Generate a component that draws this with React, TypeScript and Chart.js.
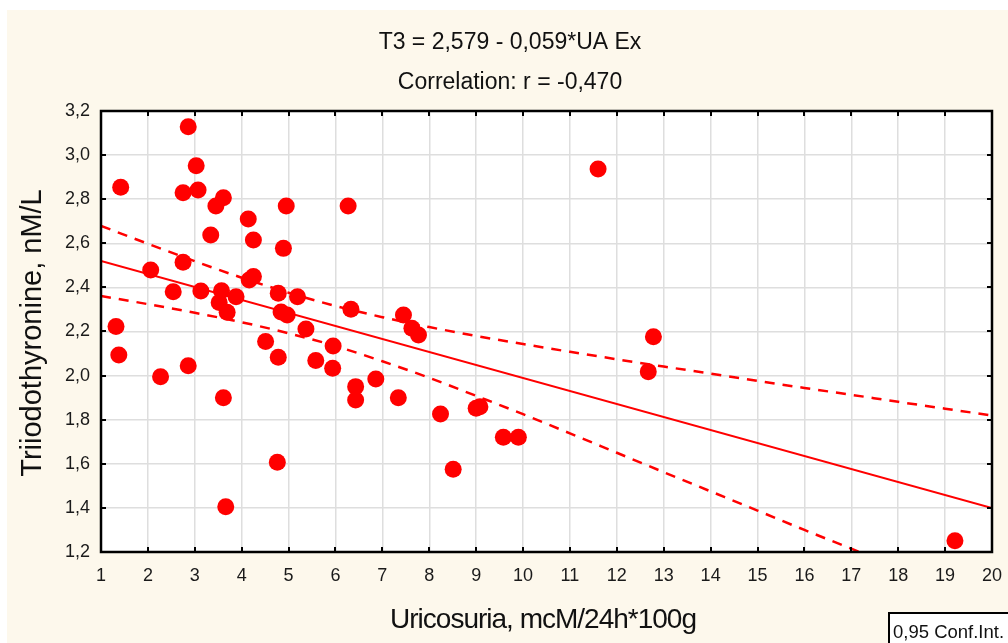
import React, { useEffect, useRef } from "react";
import { Chart, registerables } from "chart.js";

Chart.register(...registerables);

// Observed points: uricosuria (x) and triiodothyronine (y)
const pointsX = [
  1.32, 1.38, 1.42, 2.06, 2.27, 2.54, 2.75, 2.75, 2.86, 2.86,
  3.03, 3.07, 3.13, 3.34, 3.45, 3.61, 3.57, 3.52, 3.69, 3.88,
  3.61, 3.66, 4.14, 4.25, 4.16, 4.25, 4.51, 4.76, 4.78, 4.78,
  4.89, 4.95, 4.84, 4.97, 5.19, 5.37, 5.58, 5.95, 5.94, 6.27,
  6.33, 6.43, 6.43, 6.86, 7.34, 7.45, 7.63, 7.77, 8.24, 8.51,
  9.0, 9.08, 9.58, 9.9, 11.6, 12.78, 12.67, 19.21,
];
const pointsY = [
  2.223, 2.093, 2.854, 2.479, 1.995, 2.38, 2.514, 2.829, 3.129, 2.045,
  2.952, 2.842, 2.384, 2.638, 2.769, 2.807, 2.385, 2.331, 2.287, 2.358,
  1.9, 1.405, 2.71, 2.615, 2.434, 2.449, 2.155, 1.607, 2.083, 2.373,
  2.577, 2.769, 2.288, 2.275, 2.358, 2.211, 2.068, 2.134, 2.033, 2.769,
  2.301, 1.95, 1.889, 1.985, 1.9, 2.275, 2.215, 2.184, 1.826, 1.575,
  1.852, 1.859, 1.72, 1.72, 2.937, 2.176, 2.018, 1.251,
];

// Regression line T3 = 2,579 - 0,059*UA Ex (end points)
const fitX = [1, 20];
const fitY = [2.52, 1.399];

// 0,95 confidence band, read at each integer x
const bandX = [1, 2, 3, 4, 5, 6, 7, 8, 9, 10, 11, 12, 13, 14, 15, 16, 17, 18, 19, 20];
const bandUpper = [
  2.679, 2.598, 2.519, 2.444, 2.376, 2.316, 2.265, 2.22, 2.18, 2.143,
  2.108, 2.074, 2.041, 2.009, 1.976, 1.944, 1.913, 1.881, 1.85, 1.819,
];
const bandLower = [
  2.361, 2.324, 2.285, 2.242, 2.192, 2.134, 2.065, 1.99, 1.908, 1.825,
  1.738, 1.65, 1.562, 1.475, 1.388, 1.3, 1.215, 1.13, 1.045, 0.96,
];

const xTicks = [1, 2, 3, 4, 5, 6, 7, 8, 9, 10, 11, 12, 13, 14, 15, 16, 17, 18, 19, 20];
const yTicks = [1.2, 1.4, 1.6, 1.8, 2.0, 2.2, 2.4, 2.6, 2.8, 3.0, 3.2];

const titleLines = ["T3 = 2,579 - 0,059*UA Ex", "Correlation: r = -0,470"];
const xTitle = "Uricosuria, mcM/24h*100g";
const yTitle = "Triiodothyronine, nM/L";
const legendText = "0,95 Conf.Int.";

const RED = "#ff0000";
const CREAM = "#fdf8ec";
const FONT = "'Liberation Sans', Arial, sans-serif";

const zip = (xs: number[], ys: number[]) => xs.map((x, i) => ({ x, y: ys[i] }));

const decorPlugin = {
  id: "decor",
  beforeDraw(chart: any) {
    const { ctx, width, height, chartArea: a } = chart;
    ctx.save();
    ctx.fillStyle = "#ffffff";
    ctx.fillRect(0, 0, width, height);
    ctx.fillStyle = CREAM;
    ctx.fillRect(7, 10, width - 7, height - 10);
    ctx.fillStyle = "#ffffff";
    ctx.fillRect(a.left, a.top, a.right - a.left, a.bottom - a.top);
    ctx.restore();
  },
  afterDraw(chart: any) {
    const { ctx, chartArea: a, scales } = chart;
    const xs = scales.x;
    const ys = scales.y;
    ctx.save();
    // frame
    ctx.strokeStyle = "#000";
    ctx.lineWidth = 2.5;
    ctx.strokeRect(a.left, a.top, a.right - a.left, a.bottom - a.top);
    // inward ticks
    const tl = 5;
    ctx.lineWidth = 2;
    ctx.beginPath();
    xTicks.forEach((v) => {
      const px = Math.round(xs.getPixelForValue(v));
      ctx.moveTo(px, a.bottom);
      ctx.lineTo(px, a.bottom - tl);
      ctx.moveTo(px, a.top);
      ctx.lineTo(px, a.top + tl);
    });
    yTicks.forEach((v) => {
      const py = Math.round(ys.getPixelForValue(v));
      ctx.moveTo(a.left, py);
      ctx.lineTo(a.left + tl, py);
      ctx.moveTo(a.right, py);
      ctx.lineTo(a.right - tl, py);
    });
    ctx.stroke();

    // titles
    ctx.fillStyle = "#111";
    ctx.textAlign = "center";
    ctx.textBaseline = "middle";
    ctx.font = `23px ${FONT}`;
    ctx.fillText(titleLines[0], 510, 43);
    ctx.fillText(titleLines[1], 510, 83);

    // x title
    ctx.font = `28px ${FONT}`;
    (ctx as any).letterSpacing = "-1px";
    ctx.fillText(xTitle, 543, 620);
    (ctx as any).letterSpacing = "0px";

    // y title
    ctx.save();
    ctx.translate(33, 333);
    ctx.rotate(-Math.PI / 2);
    ctx.font = `29px ${FONT}`;
    ctx.fillText(yTitle, 0, 0);
    ctx.restore();

    // legend box
    ctx.fillStyle = "#ffffff";
    ctx.fillRect(889, 613, 130, 40);
    ctx.strokeStyle = "#000";
    ctx.lineWidth = 2;
    ctx.strokeRect(889, 613, 130, 40);
    ctx.fillStyle = "#111";
    ctx.textAlign = "left";
    ctx.textBaseline = "alphabetic";
    ctx.font = `18.5px ${FONT}`;
    ctx.fillText(legendText, 893, 638);
    ctx.restore();
  },
};

export default function App() {
  const ref = useRef<HTMLCanvasElement | null>(null);

  useEffect(() => {
    if (!ref.current) return;
    const lineBase = {
      showLine: true,
      pointRadius: 0,
      pointHoverRadius: 0,
      borderColor: RED,
      backgroundColor: RED,
      fill: false,
      order: 2,
    };
    const chart = new Chart(ref.current, {
      type: "scatter",
      data: {
        datasets: [
          {
            label: "T3",
            data: zip(pointsX, pointsY),
            pointRadius: 8.5,
            pointBorderWidth: 0,
            backgroundColor: RED,
            borderColor: RED,
            order: 1,
          },
          { ...lineBase, label: "fit", data: zip(fitX, fitY), borderWidth: 2 },
          {
            ...lineBase,
            label: "upper",
            data: zip(bandX, bandUpper),
            borderWidth: 2.5,
            borderDash: [10, 8],
            cubicInterpolationMode: "monotone",
          },
          {
            ...lineBase,
            label: "lower",
            data: zip(bandX, bandLower),
            borderWidth: 2.5,
            borderDash: [10, 8],
            cubicInterpolationMode: "monotone",
          },
        ] as any,
      },
      options: {
        animation: false,
        responsive: false,
        events: [],
        layout: { padding: { left: 0, right: 16, top: 111, bottom: 0 } },
        plugins: {
          legend: { display: false },
          tooltip: { enabled: false },
          title: { display: false },
        },
        scales: {
          x: {
            type: "linear",
            min: 1,
            max: 20,
            afterFit: (s: any) => {
              s.height = 91;
              s.paddingLeft = 0;
              s.paddingRight = 0;
            },
            afterBuildTicks: (s: any) => {
              s.ticks = xTicks.map((v) => ({ value: v }));
            },
            grid: { color: "#dedede", lineWidth: 1.5, drawTicks: false },
            border: { display: false },
            ticks: {
              padding: 13,
              color: "#1a1a1a",
              font: { family: FONT, size: 18 },
              callback: (v: any) => String(v),
              maxRotation: 0,
            },
          },
          y: {
            type: "linear",
            min: 1.2,
            max: 3.2,
            afterFit: (s: any) => {
              s.width = 101;
              s.paddingTop = 0;
              s.paddingBottom = 0;
            },
            afterBuildTicks: (s: any) => {
              s.ticks = yTicks.map((v) => ({ value: v }));
            },
            grid: { color: "#dedede", lineWidth: 1.5, drawTicks: false },
            border: { display: false },
            ticks: {
              padding: 11,
              color: "#1a1a1a",
              font: { family: FONT, size: 18 },
              callback: (v: any) => Number(v).toFixed(1).replace(".", ","),
            },
          },
        },
      } as any,
      plugins: [decorPlugin],
    });
    return () => chart.destroy();
  }, []);

  return (
    <div style={{ position: "absolute", left: 0, top: 0, width: 1008, height: 643 }}>
      <canvas ref={ref} width={1008} height={643} style={{ display: "block" }} />
    </div>
  );
}
